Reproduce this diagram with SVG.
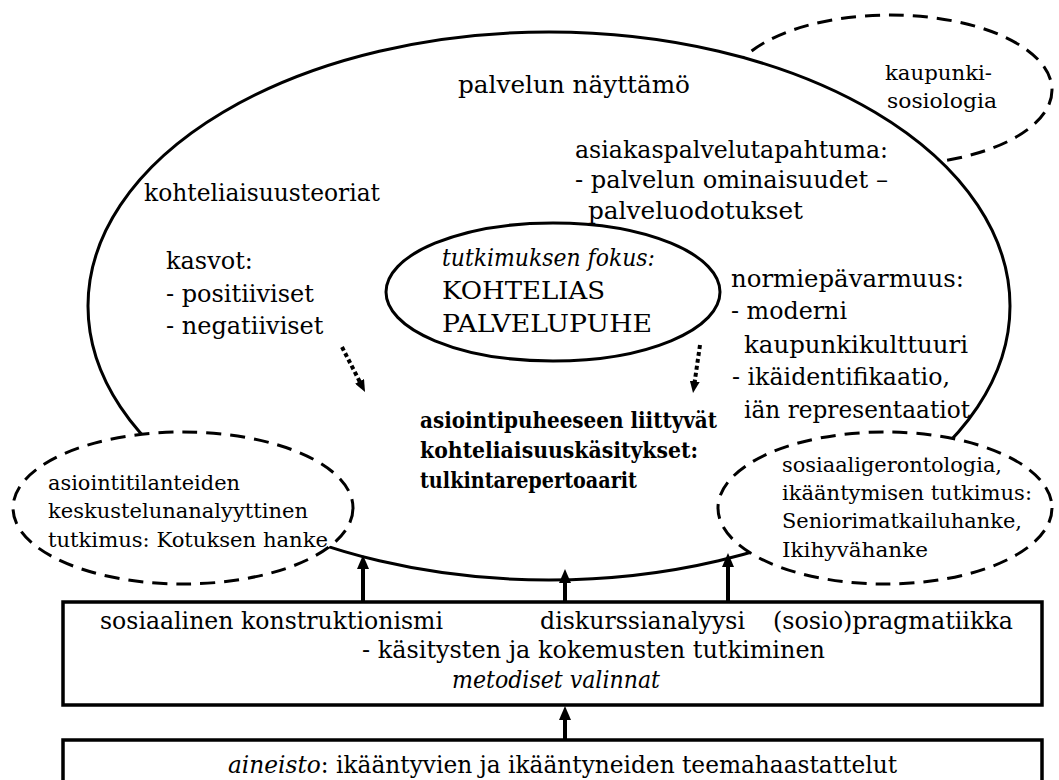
<svg xmlns="http://www.w3.org/2000/svg" width="1059" height="780" viewBox="0 0 1059 780">
  <style>
    .bg { fill: #ffffff; }
    .solid { fill: #ffffff; stroke: #000000; stroke-width: 3; }
    .dashed { fill: #ffffff; stroke: #000000; stroke-width: 3; stroke-dasharray: 15 9; }
    .box { fill: #ffffff; stroke: #000000; stroke-width: 3.5; }
    .t { font-family: "DejaVu Serif", "Liberation Serif", serif; font-size: 24px; fill: #000000; }
    .s { font-family: "DejaVu Serif", "Liberation Serif", serif; font-size: 21px; fill: #000000; }
    .b { font-family: "DejaVu Serif", "Liberation Serif", serif; font-size: 23px; font-weight: bold; fill: #000000; }
    .i { font-style: italic; }
    .arrow { fill: none; stroke: #000000; stroke-width: 4; marker-end: url(#head); }
    .dotted { fill: none; stroke: #000000; stroke-width: 4; stroke-dasharray: 4 3; marker-end: url(#smallhead); }
  </style>
  <defs>
    <marker id="head" markerUnits="userSpaceOnUse" viewBox="0 0 14 12" markerWidth="14" markerHeight="12" refX="9" refY="6" orient="auto">
      <path d="M0,0 L14,6 L0,12 z" fill="#000000"/>
    </marker>
    <marker id="smallhead" markerUnits="userSpaceOnUse" viewBox="0 0 12 10" markerWidth="12" markerHeight="10" refX="6" refY="5" orient="auto">
      <path d="M0,0 L12,5 L0,10 z" fill="#000000"/>
    </marker>
  </defs>

  <rect class="bg" x="0" y="0" width="1059" height="780"/>

  <!-- urban sociology: sits behind the service stage -->
  <g id="kaupunkisosiologia">
    <ellipse class="dashed" cx="890" cy="90" rx="162" ry="75"/>
    <text class="s" x="885" y="80" textLength="107" lengthAdjust="spacingAndGlyphs">kaupunki-</text>
    <text class="s" x="887" y="108" textLength="110" lengthAdjust="spacingAndGlyphs">sosiologia</text>
  </g>

  <!-- service stage: the large ellipse -->
  <g id="palvelun-nayttamo">
    <ellipse class="solid" cx="549" cy="306" rx="461" ry="274"/>
    <text class="t" x="458" y="93" textLength="232" lengthAdjust="spacingAndGlyphs">palvelun näyttämö</text>
  </g>

  <g id="kohteliaisuusteoriat">
    <text class="t" x="144" y="201" textLength="236" lengthAdjust="spacingAndGlyphs">kohteliaisuusteoriat</text>
  </g>

  <g id="kasvot">
    <text class="t" x="166" y="269">kasvot:</text>
    <text class="t" x="166" y="302">- positiiviset</text>
    <text class="t" x="166" y="334">- negatiiviset</text>
  </g>

  <g id="asiakaspalvelutapahtuma">
    <text class="t" x="575" y="158" textLength="313" lengthAdjust="spacingAndGlyphs">asiakaspalvelutapahtuma:</text>
    <text class="t" x="575" y="188" textLength="313" lengthAdjust="spacingAndGlyphs">- palvelun ominaisuudet –</text>
    <text class="t" x="588" y="219" textLength="215" lengthAdjust="spacingAndGlyphs">palveluodotukset</text>
  </g>

  <g id="normiepavarmuus">
    <text class="t" x="731" y="287" textLength="233" lengthAdjust="spacingAndGlyphs">normiepävarmuus:</text>
    <text class="t" x="731" y="319" textLength="116" lengthAdjust="spacingAndGlyphs">- moderni</text>
    <text class="t" x="744" y="353" textLength="224" lengthAdjust="spacingAndGlyphs">kaupunkikulttuuri</text>
    <text class="t" x="732" y="385" textLength="218" lengthAdjust="spacingAndGlyphs">- ikäidentifikaatio,</text>
    <text class="t" x="744" y="418" textLength="226" lengthAdjust="spacingAndGlyphs">iän representaatiot</text>
  </g>

  <!-- research focus -->
  <g id="tutkimuksen-fokus">
    <ellipse class="solid" cx="553" cy="292" rx="167" ry="69"/>
    <text class="t i" x="442" y="266" textLength="213" lengthAdjust="spacingAndGlyphs">tutkimuksen fokus:</text>
    <text class="t" x="442" y="299" textLength="163" lengthAdjust="spacingAndGlyphs">KOHTELIAS</text>
    <text class="t" x="442" y="332" textLength="210" lengthAdjust="spacingAndGlyphs">PALVELUPUHE</text>
  </g>

  <g id="tulkintarepertoaarit">
    <text class="b" x="420" y="428" textLength="297" lengthAdjust="spacingAndGlyphs">asiointipuheeseen liittyvät</text>
    <text class="b" x="420" y="458" textLength="278" lengthAdjust="spacingAndGlyphs">kohteliaisuuskäsitykset:</text>
    <text class="b" x="420" y="488" textLength="217" lengthAdjust="spacingAndGlyphs">tulkintarepertoaarit</text>
  </g>

  <!-- conversation analysis: overlaps the lower left of the stage -->
  <g id="keskustelunanalyysi">
    <ellipse class="dashed" cx="183" cy="508" rx="170" ry="76"/>
    <text class="s" x="48" y="490" textLength="192" lengthAdjust="spacingAndGlyphs">asiointitilanteiden</text>
    <text class="s" x="48" y="518" textLength="260" lengthAdjust="spacingAndGlyphs">keskustelunanalyyttinen</text>
    <text class="s" x="48" y="547" textLength="280" lengthAdjust="spacingAndGlyphs">tutkimus: Kotuksen hanke</text>
  </g>

  <!-- social gerontology: overlaps the lower right of the stage -->
  <g id="sosiaaligerontologia">
    <ellipse class="dashed" cx="885" cy="508" rx="167" ry="76"/>
    <text class="s" x="782" y="472" textLength="220" lengthAdjust="spacingAndGlyphs">sosiaaligerontologia,</text>
    <text class="s" x="782" y="500" textLength="250" lengthAdjust="spacingAndGlyphs">ikääntymisen tutkimus:</text>
    <text class="s" x="782" y="528" textLength="240" lengthAdjust="spacingAndGlyphs">Seniorimatkailuhanke,</text>
    <text class="s" x="782" y="557" textLength="146" lengthAdjust="spacingAndGlyphs">Ikihyvähanke</text>
  </g>

  <!-- methodological choices -->
  <g id="metodiset-valinnat">
    <rect class="box" x="63" y="602" width="979" height="103"/>
    <text class="t" x="100" y="629" textLength="343" lengthAdjust="spacingAndGlyphs">sosiaalinen konstruktionismi</text>
    <text class="t" x="540" y="629" textLength="205" lengthAdjust="spacingAndGlyphs">diskurssianalyysi</text>
    <text class="t" x="773" y="629" textLength="240" lengthAdjust="spacingAndGlyphs">(sosio)pragmatiikka</text>
    <text class="t" x="362" y="658" textLength="463" lengthAdjust="spacingAndGlyphs">- käsitysten ja kokemusten tutkiminen</text>
    <text class="t i" x="452" y="688" textLength="208" lengthAdjust="spacingAndGlyphs">metodiset valinnat</text>
  </g>

  <!-- research material -->
  <g id="aineisto">
    <rect class="box" x="63" y="740" width="979" height="70"/>
    <text class="t" x="228" y="773" textLength="669" lengthAdjust="spacingAndGlyphs"><tspan class="i">aineisto</tspan>: ikääntyvien ja ikääntyneiden teemahaastattelut</text>
  </g>

  <!-- connectors -->
  <g id="connectors">
    <path class="dotted" d="M342,347 L362.3,386.7"/>
    <path class="dotted" d="M700,345 L693.9,387.1"/>
    <path class="arrow" d="M363,602 L363,560"/>
    <path class="arrow" d="M565,602 L565,574"/>
    <path class="arrow" d="M728,602 L728,558"/>
    <path class="arrow" d="M565,740 L565,711"/>
  </g>
</svg>
